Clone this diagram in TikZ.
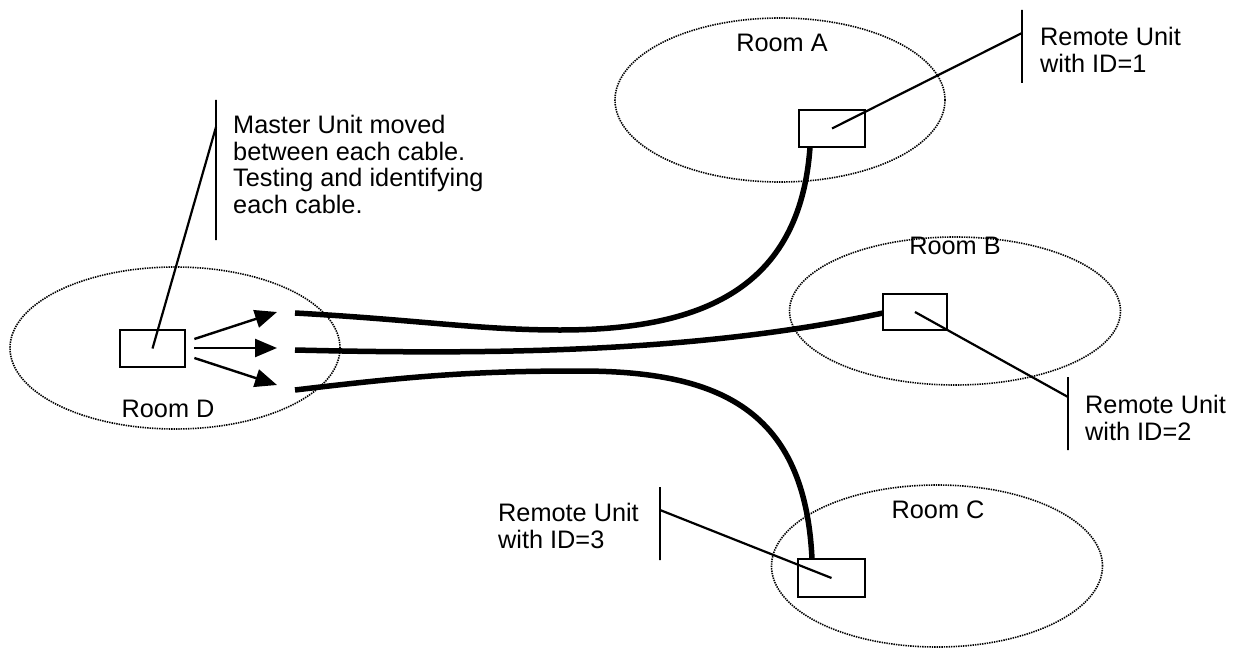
\documentclass[tikz,border=0pt]{standalone}
\usepackage{fontspec}
\setmainfont{Liberation Sans}
\usepackage{tikz}
\usetikzlibrary{positioning,arrows.meta,calc,shapes.geometric}
\definecolor{cInk}{HTML}{000000}
\definecolor{cPaper}{HTML}{FFFFFF}
\tikzset{
  room/.style   ={ellipse, draw=cInk, line width=1.6pt,
                  dash pattern=on 1.4pt off 1.0pt, inner sep=0pt},
  unit/.style   ={rectangle, draw=cInk, line width=2.8pt, fill=cPaper, inner sep=0pt},
  txt/.style    ={font=\fontsize{25.3}{26.5}\selectfont, text=cInk, inner sep=0pt, align=left},
  lbl/.style    ={txt, anchor=center},
  bar/.style    ={draw=cInk, line width=2.2pt, minimum width=0pt, inner sep=0pt},
  leader/.style ={draw=cInk, line width=2.2pt},
  cable/.style  ={draw=cInk, line width=5.5pt},
  probe/.style  ={-{Triangle[length=22pt,width=18pt]}, draw=cInk, line width=2.4pt},
}

\begin{document}
\begin{tikzpicture}[x=1pt,y=-1pt]
  \useasboundingbox[fill=cPaper] (0,0) rectangle (1241,650);

  % ---- rooms ----
  \node[room, minimum width=330pt, minimum height=162pt] (roomD) at (175,348) {};
  \node[room, minimum width=330pt, minimum height=164pt] (roomA) at (780,100) {};
  \node[room, minimum width=331pt, minimum height=148pt] (roomB) at (955,311) {};
  \node[room, minimum width=331pt, minimum height=162pt] (roomC) at (937,566) {};

  \node[lbl] (labD) at (168,409) {Room D};
  \node[lbl] (labA) at (782,43)  {Room A};
  \node[lbl] (labB) at (955,246) {Room B};
  \node[lbl] (labC) at (938,510) {Room C};

  % ---- cables ----
  \coordinate (endA) at (295,313);
  \coordinate (endB) at (295,350);
  \coordinate (endC) at (295,390);
  \draw[cable] (endA) .. controls (420,320) and (480,330) .. (560,330)
                      .. controls (700,330) and (800,290) .. (810,147);
  \draw[cable] (endB) .. controls (500,355) and (700,352) .. (883,313);
  \draw[cable] (endC) .. controls (420,375) and (480,371) .. (580,371)
                      .. controls (720,371) and (805,410) .. (812,559);

  % ---- units ----
  \node[unit, minimum width=65pt, minimum height=37pt] (master) at (152.5,348.5) {};
  \node[unit, minimum width=66pt, minimum height=37pt] (unitA)  at (832,128.5) {};
  \node[unit, minimum width=64pt, minimum height=36pt] (unitB)  at (915,312) {};
  \node[unit, minimum width=67pt, minimum height=38pt] (unitC)  at (831.5,578) {};

  % ---- master unit moved to each cable ----
  \coordinate (tipA) at (277,312);
  \coordinate (tipB) at (277,348);
  \coordinate (tipC) at (277,385);
  \draw[probe] ($(master.east)+(8,-9.5)$) -- (tipA);
  \draw[probe] ($(master.east)+(8,-0.5)$) -- (tipB);
  \draw[probe] ($(master.east)+(8,9.5)$) -- (tipC);

  % ---- callouts ----
  \node[bar, minimum height=140pt] (barM) at (216,170) {};
  \coordinate (hitM) at (216,127);
  \draw[leader] (master.center) -- (hitM);
  \node[txt, anchor=north west] (noteM) at (233,115)
    {Master Unit moved\\between each cable.\\Testing and identifying\\each cable.};

  \node[bar, minimum height=73pt] (barA) at (1022,46.5) {};
  \coordinate (hitA) at (1022,33);
  \draw[leader] (unitA.center) -- (hitA);
  \node[txt, anchor=north west] (noteA) at (1040,27) {Remote Unit\\with ID=1};

  \node[bar, minimum height=73pt] (barB) at (1068,413.5) {};
  \coordinate (hitB) at (1068,397);
  \draw[leader] (unitB.center) -- (hitB);
  \node[txt, anchor=north west] (noteB) at (1085,395) {Remote Unit\\with ID=2};

  \node[bar, minimum height=73pt] (barC) at (660,523.5) {};
  \coordinate (hitC) at (660,510);
  \draw[leader] (unitC.center) -- (hitC);
  \node[txt, anchor=north west] (noteC) at (498,503) {Remote Unit\\with ID=3};

\end{tikzpicture}
\end{document}
